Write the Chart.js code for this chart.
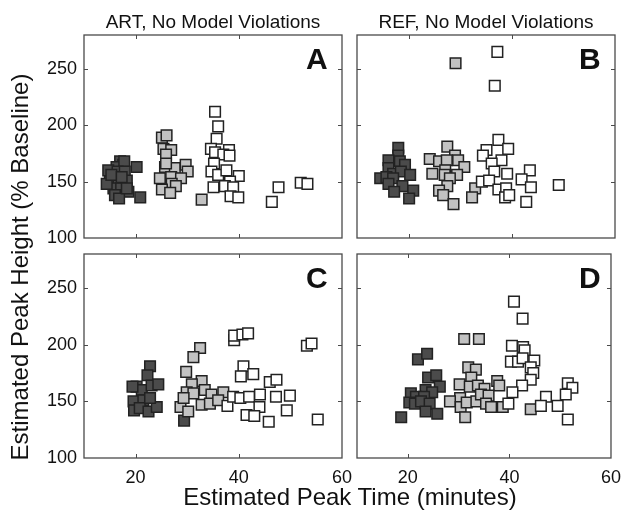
<!DOCTYPE html>
<html>
<head>
<meta charset="utf-8">
<script src="https://cdn.jsdelivr.net/npm/chart.js@4"></script>
<style>
  body { margin: 0; background: #fff; }
  #wrap { position: relative; width: 630px; height: 513px; background: #fff; font-family: "Liberation Sans", Arial, sans-serif; color: #111; }
  #wrap canvas { position: absolute; left: 0; top: 0; }
  .txt { position: absolute; white-space: nowrap; }
  .ptitle { font-size: 19px; line-height: 19px; top: 12px; width: 300px; text-align: center; }
  .letter { font-size: 30px; line-height: 30px; font-weight: bold; }
</style>
</head>
<body>
<div id="wrap">
  <canvas id="panelA" width="630" height="513"></canvas>
  <canvas id="panelB" width="630" height="513"></canvas>
  <canvas id="panelC" width="630" height="513"></canvas>
  <canvas id="panelD" width="630" height="513"></canvas>
  <div class="txt ptitle" style="left:63px;">ART, No Model Violations</div>
  <div class="txt ptitle" style="left:336px;">REF, No Model Violations</div>
  <div class="txt letter" style="left:306px; top:44px;">A</div>
  <div class="txt letter" style="left:579px; top:44px;">B</div>
  <div class="txt letter" style="left:306px; top:263px;">C</div>
  <div class="txt letter" style="left:579px; top:263px;">D</div>
  <div class="txt" style="font-size:24px; line-height:24px; left:100px; width:500px; text-align:center; top:485px;">Estimated Peak Time (minutes)</div>
  <div class="txt" style="font-size:24px; line-height:24px; left:-230px; width:500px; text-align:center; top:255px; transform: rotate(-90deg);">Estimated Peak Height (% Baseline)</div>
</div>
<script>
// axis ticks
const xTicks = [20, 40, 60];
const yTicks = [100, 150, 200, 250];

// ART, no model violations (panel A)
const artDarkX = [17.0, 17.6, 16.3, 17.8, 14.7, 16.5, 17.9, 20.2, 15.0, 16.7, 18.3, 15.7, 17.2, 18.6, 16.0, 16.8, 20.9, 14.4, 15.3, 17.3, 18.3];
const artDarkY = [168, 165, 163, 168, 160, 159, 159, 163, 150, 151, 151, 144, 144, 141, 138, 135, 136, 148, 156, 154, 144];
const artGreyX = [25.1, 26.0, 25.4, 26.9, 25.9, 25.7, 27.6, 29.7, 30.1, 24.7, 26.9, 28.8, 27.0, 27.8, 25.1, 26.7, 32.8, 25.9];
const artGreyY = [189, 191, 179, 178, 174, 163, 162, 165, 159, 153, 154, 153, 148, 146, 143, 140, 134, 166];
const artWhiteX = [35.4, 36.0, 35.7, 34.6, 35.4, 38.1, 37.0, 38.2, 35.2, 34.7, 36.0, 37.6, 40.0, 38.3, 37.3, 38.9, 35.1, 38.4, 39.9, 46.4, 47.7, 52.0, 53.3];
const artWhiteY = [212, 199, 188, 179, 176, 178, 174, 173, 166, 159, 156, 160, 155, 150, 146, 145, 145, 137, 136, 132, 145, 149, 148];

// REF, no model violations (panel B)
const refDarkX = [18.0, 18.0, 16.1, 18.3, 19.3, 16.1, 17.0, 18.5, 20.3, 14.5, 15.7, 17.0, 16.1, 18.8, 17.2, 20.9, 20.1];
const refDarkY = [180, 173, 169, 168, 165, 162, 157, 159, 156, 153, 154, 153, 148, 146, 141, 142, 135];
const refGreyX = [29.1, 27.5, 29.0, 24.1, 25.9, 27.4, 29.6, 30.8, 27.1, 24.6, 27.0, 29.4, 28.0, 27.5, 25.9, 26.7, 28.7, 32.9, 32.3];
const refGreyY = [255, 181, 173, 170, 168, 169, 169, 163, 160, 157, 156, 156, 153, 146, 142, 138, 130, 144, 136];
const refWhiteX = [37.2, 36.7, 37.4, 35.1, 39.3, 34.4, 38.0, 36.1, 36.6, 39.1, 43.5, 41.9, 43.7, 34.2, 35.6, 37.4, 38.9, 38.7, 39.5, 42.8, 49.1];
const refWhiteY = [265, 235, 187, 178, 179, 173, 169, 166, 159, 157, 160, 152, 145, 150, 151, 143, 144, 136, 138, 132, 147];

// panel C
const cDarkX = [22.8, 22.3, 20.2, 21.2, 23.1, 24.4, 19.4, 19.6, 21.5, 19.7, 20.8, 22.5, 24.1, 22.8, 29.4];
const cDarkY = [181, 173, 163, 160, 164, 165, 163, 150, 151, 142, 144, 141, 145, 153, 133];
const cGreyX = [32.5, 31.2, 29.8, 32.8, 30.9, 29.9, 31.2, 33.4, 34.7, 37.0, 28.7, 30.2, 32.8, 34.4, 36.0, 29.3];
const cGreyY = [197, 189, 176, 168, 165, 158, 157, 160, 156, 158, 145, 141, 147, 148, 151, 153];
const cWhiteX = [39.1, 39.1, 40.7, 41.8, 40.9, 40.4, 42.8, 46.0, 47.3, 37.8, 38.9, 40.3, 42.0, 44.1, 44.0, 41.5, 43.0, 45.8, 47.2, 49.9, 49.3, 53.2, 54.1, 55.3];
const cWhiteY = [204, 208, 209, 210, 181, 172, 174, 167, 169, 146, 154, 153, 154, 156, 145, 138, 137, 132, 154, 155, 142, 199, 201, 134];

// panel D
const dDarkX = [22.0, 23.8, 24.0, 25.6, 26.3, 23.5, 24.8, 20.6, 21.6, 23.2, 20.3, 21.4, 22.6, 24.3, 23.5, 25.8, 18.7];
const dDarkY = [187, 192, 171, 173, 163, 160, 158, 157, 154, 154, 149, 148, 150, 148, 141, 139, 136];
const dGreyX = [31.1, 34.0, 31.9, 33.4, 32.5, 30.2, 32.2, 33.8, 35.1, 37.6, 38.0, 30.3, 28.3, 30.4, 31.6, 33.5, 34.4, 35.9, 35.4, 36.4, 31.3, 38.7, 44.2];
const dGreyY = [205, 205, 180, 178, 171, 165, 163, 164, 161, 168, 164, 153, 150, 145, 149, 150, 156, 155, 148, 145, 136, 145, 143];
const dWhiteX = [40.9, 42.6, 40.5, 42.7, 43.0, 40.3, 41.7, 42.6, 44.9, 44.2, 44.7, 44.2, 42.5, 40.6, 39.8, 47.2, 46.2, 49.5, 51.5, 52.4, 51.1, 51.5];
const dWhiteY = [238, 223, 199, 198, 195, 185, 185, 188, 186, 180, 175, 169, 164, 158, 148, 154, 146, 146, 166, 162, 156, 134];

const fills = ['#4b4b4b', '#c2c2c2', '#ffffff'];
const fontFamily = '"Liberation Sans", Arial, sans-serif';

function toPoints(xs, ys) {
    return xs.map((x, i) => ({ x: x, y: ys[i] }));
}

// box frame with inward ticks, matlab style
const framePlugin = {
    id: 'frame',
    afterDraw(chart) {
        const ctx = chart.ctx;
        const a = chart.chartArea;
        const sx = chart.scales.x;
        const sy = chart.scales.y;
        ctx.save();
        ctx.strokeStyle = '#4a4a4a';
        ctx.lineWidth = 1.3;
        ctx.strokeRect(a.left, a.top, a.right - a.left, a.bottom - a.top);
        ctx.lineWidth = 1;
        ctx.beginPath();
        xTicks.forEach(v => {
            const px = Math.round(sx.getPixelForValue(v)) + 0.5;
            if (px > a.right - 2) return;
            ctx.moveTo(px, a.bottom); ctx.lineTo(px, a.bottom - 4);
            ctx.moveTo(px, a.top); ctx.lineTo(px, a.top + 4);
        });
        yTicks.forEach(v => {
            const py = Math.round(sy.getPixelForValue(v)) + 0.5;
            if (py > a.bottom - 2) return;
            ctx.moveTo(a.left, py); ctx.lineTo(a.left + 4, py);
            ctx.moveTo(a.right, py); ctx.lineTo(a.right - 4, py);
        });
        ctx.stroke();
        ctx.restore();
    }
};

function makePanel(id, box, sets, showX, showY) {
    const yw = showY ? 50 : 0;
    const xh = showX ? 32 : 0;
    new Chart(document.getElementById(id), {
        type: 'scatter',
        data: {
            datasets: sets.map((s, i) => ({
                data: toPoints(s[0], s[1]),
                backgroundColor: fills[i],
                borderColor: '#222',
                borderWidth: 1.5,
                pointStyle: 'rect',
                pointRadius: 7.5,
                order: 3 - i
            }))
        },
        options: {
            responsive: false,
            animation: false,
            events: [],
            layout: {
                padding: { left: box.left - yw, top: box.top, right: 630 - box.right, bottom: 513 - box.bottom - xh }
            },
            plugins: { legend: { display: false }, tooltip: { enabled: false } },
            scales: {
                x: {
                    type: 'linear', min: 10, max: 60,
                    grid: { display: false, drawTicks: false },
                    border: { display: false },
                    afterBuildTicks: s => { s.ticks = xTicks.map(v => ({ value: v })); },
                    afterFit: s => { s.height = xh; },
                    ticks: { display: showX, padding: 9, autoSkip: false, maxRotation: 0, color: '#111', font: { family: fontFamily, size: 18 } }
                },
                y: {
                    type: 'linear', min: 100, max: 280,
                    grid: { display: false, drawTicks: false },
                    border: { display: false },
                    afterBuildTicks: s => { s.ticks = yTicks.map(v => ({ value: v })); },
                    afterFit: s => { s.width = yw; },
                    ticks: { display: showY, padding: 7, autoSkip: false, color: '#111', font: { family: fontFamily, size: 18 } }
                }
            }
        },
        plugins: [framePlugin]
    });
}

makePanel('panelA', { left: 84, right: 342, top: 35, bottom: 238 },
    [[artDarkX, artDarkY], [artGreyX, artGreyY], [artWhiteX, artWhiteY]], false, true);
makePanel('panelB', { left: 357, right: 615, top: 35, bottom: 238 },
    [[refDarkX, refDarkY], [refGreyX, refGreyY], [refWhiteX, refWhiteY]], false, false);
makePanel('panelC', { left: 84, right: 342, top: 254, bottom: 458 },
    [[cDarkX, cDarkY], [cGreyX, cGreyY], [cWhiteX, cWhiteY]], true, true);
makePanel('panelD', { left: 357, right: 615, top: 254, bottom: 458 },
    [[dDarkX, dDarkY], [dGreyX, dGreyY], [dWhiteX, dWhiteY]], true, false);
</script>
</body>
</html>
